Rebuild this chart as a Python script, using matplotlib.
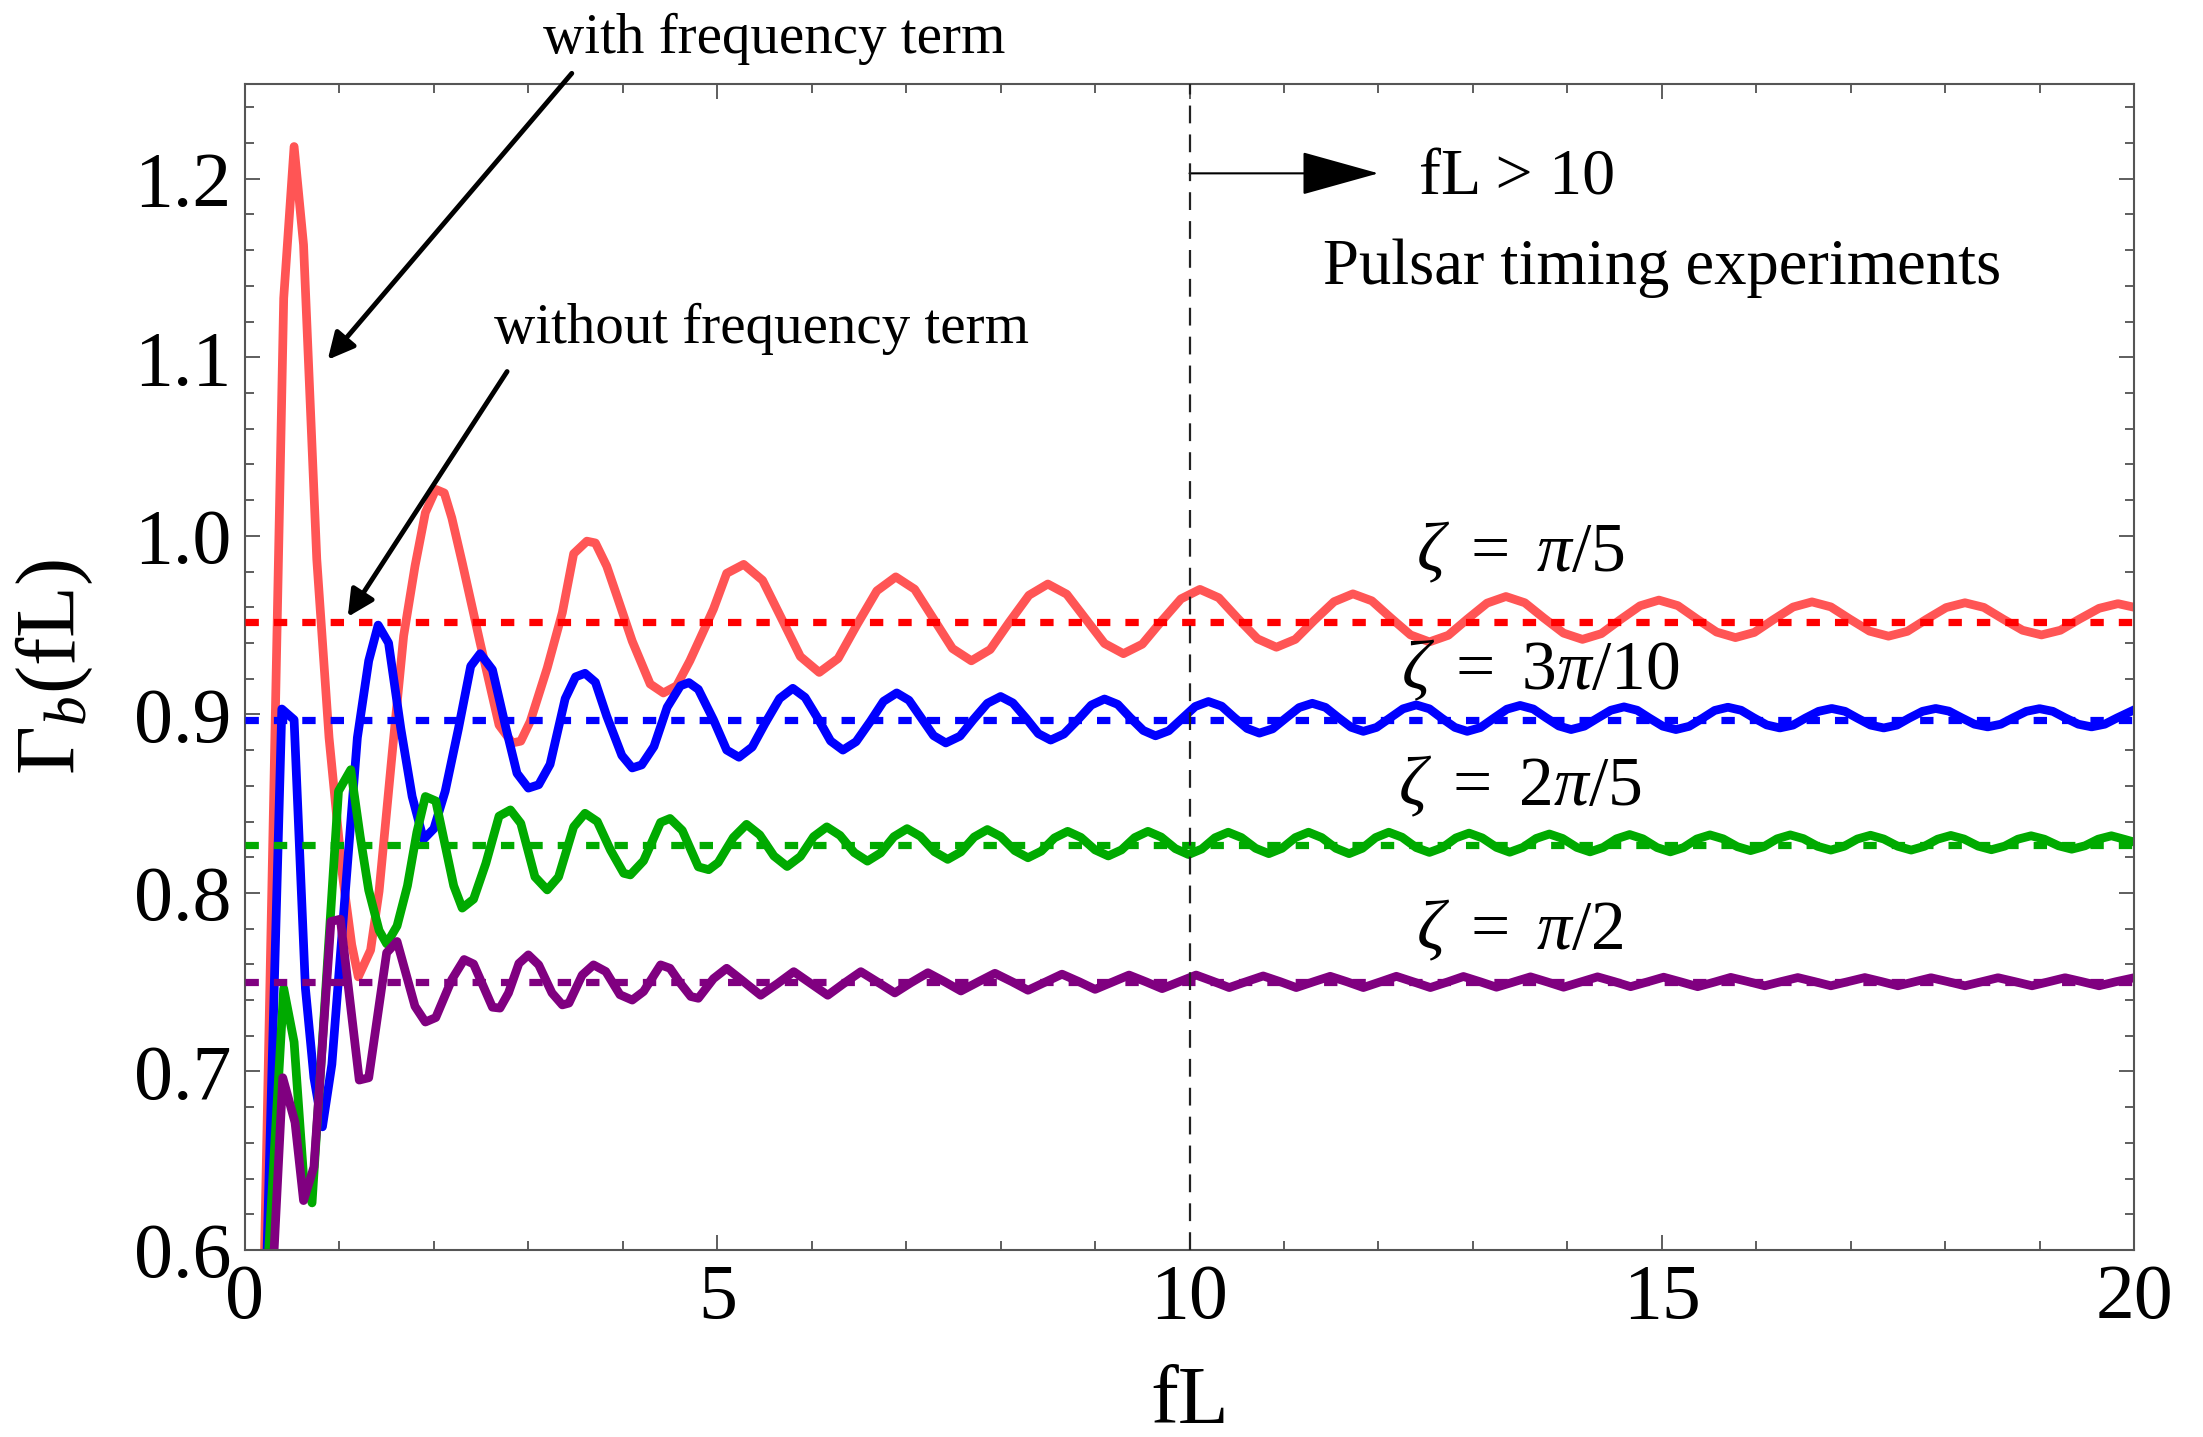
import matplotlib.pyplot as plt
from matplotlib.ticker import MultipleLocator, FormatStrFormatter

plt.rcParams['font.family'] = ['Liberation Serif', 'DejaVu Serif']
plt.rcParams['mathtext.fontset'] = 'custom'
plt.rcParams['mathtext.rm'] = 'Liberation Serif'
plt.rcParams['mathtext.it'] = 'Liberation Serif:italic'
plt.rcParams['mathtext.bf'] = 'Liberation Serif:bold'

# -------------------------
# Data
# -------------------------
zeta_labels = [r'$\zeta\ =\ \pi/5$', r'$\zeta\ =\ 3\pi/10$',
               r'$\zeta\ =\ 2\pi/5$', r'$\zeta\ =\ \pi/2$']
# large-fL limits (dashed lines, "without frequency term")
asymptotes = [0.952, 0.897, 0.827, 0.750]

# zeta = pi/5
red_x = [0.20, 0.41, 0.52, 0.62, 0.76, 0.89, 1.03, 1.13, 1.20, 1.33,
         1.42, 1.56, 1.68, 1.80, 1.91, 2.02, 2.11, 2.19, 2.30, 2.49,
         2.69, 2.83, 2.92, 3.02, 3.20, 3.36, 3.48, 3.62, 3.71, 3.83,
         3.94, 4.10, 4.29, 4.43, 4.57, 4.71, 4.84, 4.96, 5.10, 5.28,
         5.48, 5.68, 5.88, 6.08, 6.28, 6.48, 6.69, 6.89,
         7.09, 7.29, 7.49, 7.69, 7.89, 8.09, 8.30, 8.50,
         8.70, 8.90, 9.10, 9.30, 9.50, 9.70, 9.91, 10.11,
         10.31, 10.51, 10.72, 10.92, 11.12, 11.32, 11.53, 11.73,
         11.93, 12.13, 12.34, 12.54, 12.74, 12.94, 13.15, 13.35,
         13.55, 13.75, 13.96, 14.16, 14.36, 14.56, 14.77, 14.97,
         15.17, 15.37, 15.58, 15.78, 15.98, 16.18, 16.39, 16.59,
         16.79, 16.99, 17.20, 17.40, 17.60, 17.80, 18.01, 18.21,
         18.41, 18.61, 18.82, 19.02, 19.22, 19.42, 19.63, 19.83,
         20.00]
red_y = [0.58, 1.133, 1.218, 1.163, 0.987, 0.887, 0.811, 0.771, 0.753, 0.768,
         0.801, 0.879, 0.944, 0.983, 1.013, 1.026, 1.024, 1.010, 0.985, 0.940,
         0.894, 0.884, 0.885, 0.896, 0.926, 0.957, 0.990, 0.997, 0.996, 0.983,
         0.966, 0.941, 0.917, 0.912, 0.916, 0.930, 0.945, 0.959, 0.979, 0.984,
         0.9751, 0.9538, 0.9324, 0.9235, 0.9313, 0.9503, 0.9692, 0.977,
         0.9701, 0.9535, 0.9369, 0.930, 0.9363, 0.9515, 0.9667, 0.973,
         0.9673, 0.9535, 0.9397, 0.934, 0.9393, 0.952, 0.9647, 0.970,
         0.9653, 0.9538, 0.9423, 0.9376, 0.9420, 0.9526, 0.9631, 0.9675,
         0.9636, 0.9541, 0.9445, 0.9406, 0.9443, 0.9533, 0.9623, 0.966,
         0.9625, 0.954, 0.9455, 0.942, 0.9452, 0.953, 0.9608, 0.964,
         0.9609, 0.9535, 0.9461, 0.943, 0.9459, 0.953, 0.9601, 0.963,
         0.9602, 0.9534, 0.9466, 0.9438, 0.9465, 0.9532, 0.9598, 0.9625,
         0.9599, 0.9535, 0.9471, 0.9445, 0.9471, 0.9533, 0.9594, 0.962,
         0.960]

# zeta = 3 pi/10
blue_x = [0.22, 0.39, 0.52, 0.64, 0.73, 0.82, 0.92, 1.05, 1.19, 1.31,
          1.41, 1.52, 1.65, 1.77, 1.89, 2.00, 2.12, 2.26, 2.39, 2.49,
          2.62, 2.76, 2.88, 3.00, 3.11, 3.23, 3.39, 3.50, 3.60, 3.71,
          3.83, 3.99, 4.10, 4.20, 4.33, 4.47, 4.61, 4.70, 4.80, 4.96,
          5.10, 5.23,
          5.37, 5.51, 5.66, 5.80, 5.93, 6.07, 6.20, 6.33,
          6.47, 6.62, 6.76, 6.90, 7.03, 7.16, 7.29, 7.42,
          7.57, 7.71, 7.86, 8.00, 8.13, 8.27, 8.40, 8.53,
          8.67, 8.82, 8.96, 9.10, 9.24, 9.37, 9.51, 9.64,
          9.78, 9.92, 10.06, 10.20, 10.34, 10.47, 10.61, 10.74,
          10.88, 11.02, 11.16, 11.30, 11.44, 11.57, 11.71, 11.84,
          11.98, 12.12, 12.26, 12.40, 12.54, 12.67, 12.81, 12.94,
          13.08, 13.22, 13.36, 13.50, 13.64, 13.77, 13.91, 14.04,
          14.18, 14.32, 14.46, 14.60, 14.74, 14.87, 15.01, 15.15,
          15.29, 15.43, 15.56, 15.70, 15.84, 15.97, 16.11, 16.25,
          16.39, 16.52, 16.66, 16.80, 16.94, 17.07, 17.21, 17.35,
          17.49, 17.62, 17.76, 17.90, 18.04, 18.17, 18.31, 18.45,
          18.59, 18.72, 18.86, 19.00, 19.14, 19.27, 19.41, 19.55,
          19.69, 19.82, 19.96, 20.00]
blue_y = [0.573, 0.903, 0.897, 0.7465, 0.6965, 0.669, 0.704, 0.792, 0.887, 0.930,
          0.950, 0.940, 0.892, 0.854, 0.830, 0.836, 0.857, 0.892, 0.927, 0.934,
          0.925, 0.893, 0.867, 0.8587, 0.8606, 0.872, 0.9088, 0.921, 0.923, 0.918,
          0.899, 0.877, 0.870, 0.8717, 0.882, 0.904, 0.916, 0.9178, 0.914, 0.897,
          0.880, 0.876,
          0.8817, 0.8953, 0.9089, 0.9146, 0.9095, 0.8973, 0.8851, 0.880,
          0.8847, 0.896, 0.9073, 0.912, 0.9079, 0.898, 0.8881, 0.884,
          0.8878, 0.897, 0.9062, 0.910, 0.9064, 0.8978, 0.8892, 0.8856,
          0.8890, 0.8971, 0.9052, 0.9086, 0.9056, 0.8983, 0.8910, 0.888,
          0.8908, 0.8976, 0.9044, 0.9072, 0.9046, 0.8984, 0.8921, 0.8895,
          0.8919, 0.8979, 0.9038, 0.9062, 0.9039, 0.8984, 0.8928, 0.8905,
          0.8927, 0.8979, 0.9031, 0.9053, 0.9031, 0.8979, 0.8927, 0.8905,
          0.8926, 0.8978, 0.9029, 0.905, 0.9030, 0.8983, 0.8935, 0.8915,
          0.8934, 0.8979, 0.9023, 0.9042, 0.9023, 0.8979, 0.8934, 0.8915,
          0.8933, 0.8978, 0.9022, 0.904, 0.9023, 0.8982, 0.8941, 0.8924,
          0.8940, 0.8979, 0.9017, 0.9033, 0.9017, 0.8979, 0.8940, 0.8924,
          0.8940, 0.8979, 0.9017, 0.9033, 0.9018, 0.8982, 0.8945, 0.893,
          0.8945, 0.8981, 0.9017, 0.9032, 0.9017, 0.8981, 0.8945, 0.893,
          0.8945, 0.898, 0.9015, 0.9025]

# zeta = 2 pi/5
green_x = [0.23, 0.41, 0.52, 0.62, 0.71, 0.99, 1.12, 1.22, 1.31, 1.42,
           1.50, 1.61, 1.72, 1.82, 1.91, 2.02, 2.10, 2.21, 2.30, 2.42,
           2.55, 2.69, 2.81, 2.92, 3.07, 3.20, 3.32, 3.48, 3.60, 3.73,
           3.87, 4.01, 4.08, 4.22, 4.40, 4.50, 4.63, 4.80, 4.91, 5.01,
           5.17, 5.31, 5.45, 5.60, 5.74, 5.88, 6.02, 6.16, 6.30, 6.45,
           6.59, 6.73, 6.87, 7.01, 7.15, 7.30, 7.44, 7.58, 7.72, 7.86,
           8.00, 8.15, 8.29, 8.43, 8.57, 8.71, 8.85, 9.00, 9.14, 9.28,
           9.42, 9.56, 9.70, 9.85, 9.99, 10.13, 10.27, 10.41, 10.55, 10.70,
           10.84, 10.98, 11.12, 11.26, 11.40, 11.55, 11.69, 11.83, 11.97, 12.11,
           12.25, 12.40, 12.54, 12.68, 12.82, 12.96, 13.10, 13.25, 13.39, 13.53,
           13.67, 13.81, 13.95, 14.10, 14.24, 14.38, 14.52, 14.66, 14.80, 14.95,
           15.09, 15.23, 15.37, 15.51, 15.65, 15.80, 15.94, 16.08, 16.22, 16.36,
           16.50, 16.65, 16.79, 16.93, 17.07, 17.21, 17.35, 17.50, 17.64, 17.78,
           17.92, 18.06, 18.20, 18.35, 18.49, 18.63, 18.77, 18.91, 19.05, 19.20,
           19.34, 19.48, 19.62, 19.76, 19.90, 20.00]
green_y = [0.58, 0.7465, 0.7165, 0.6414, 0.6264, 0.857, 0.869, 0.8315, 0.8015, 0.779,
           0.7715, 0.7815, 0.804, 0.834, 0.854, 0.8515, 0.8315, 0.804, 0.7915, 0.7965,
           0.8165, 0.843, 0.8465, 0.839, 0.809, 0.8017, 0.809, 0.837, 0.8446, 0.840,
           0.824, 0.811, 0.8101, 0.818, 0.8395, 0.8417, 0.835, 0.8146, 0.813, 0.817,
           0.831, 0.8384, 0.8325, 0.8207, 0.8148, 0.8204, 0.8315, 0.837, 0.8322, 0.8226,
           0.8178, 0.8224, 0.8315, 0.836, 0.8317, 0.8231, 0.8188, 0.823, 0.8313, 0.8355,
           0.8316, 0.8237, 0.8197, 0.8234, 0.8308, 0.8345, 0.8311, 0.8241, 0.8207, 0.8241,
           0.831, 0.8345, 0.8313, 0.8248, 0.8215, 0.8246, 0.8309, 0.834, 0.831, 0.825,
           0.822, 0.825, 0.831, 0.834, 0.831, 0.825, 0.822, 0.825, 0.831, 0.834,
           0.8312, 0.8254, 0.8227, 0.8254, 0.8308, 0.8335, 0.8308, 0.8255, 0.8228, 0.8255,
           0.8305, 0.833, 0.8305, 0.8255, 0.823, 0.8255, 0.8303, 0.8327, 0.8303, 0.8254,
           0.823, 0.8254, 0.8302, 0.8325, 0.8303, 0.8259, 0.8237, 0.8259, 0.8303, 0.8325,
           0.8304, 0.8261, 0.824, 0.8261, 0.8302, 0.8323, 0.8302, 0.8261, 0.824, 0.8261,
           0.8301, 0.8322, 0.8302, 0.8262, 0.8242, 0.8262, 0.8301, 0.832, 0.8301, 0.8264,
           0.8245, 0.8264, 0.8301, 0.832, 0.830, 0.8285]

# zeta = pi/2
purple_x = [0.28, 0.40, 0.53, 0.62, 0.73, 0.91, 1.01, 1.21, 1.31, 1.50,
            1.61, 1.80, 1.91, 2.02, 2.19, 2.32, 2.42, 2.62, 2.70, 2.79,
            2.90, 3.00, 3.11, 3.25, 3.36, 3.43, 3.57, 3.69, 3.82, 3.97,
            4.10, 4.22, 4.40, 4.50, 4.61, 4.72, 4.80, 4.96, 5.10,
            5.28, 5.46, 5.64, 5.81, 5.99, 6.17, 6.34, 6.52, 6.70, 6.88,
            7.05, 7.23, 7.41, 7.58, 7.76, 7.94, 8.12, 8.29, 8.47, 8.65,
            8.83, 9.00, 9.18, 9.36, 9.54, 9.71, 9.89, 10.07, 10.25, 10.42,
            10.60, 10.78, 10.96, 11.13, 11.31, 11.49, 11.67, 11.84, 12.02, 12.19,
            12.37, 12.55, 12.73, 12.90, 13.08, 13.25, 13.43, 13.61, 13.79, 13.96,
            14.14, 14.32, 14.50, 14.67, 14.85, 15.02, 15.20, 15.38, 15.56, 15.73,
            15.91, 16.09, 16.26, 16.44, 16.62, 16.79, 16.97, 17.15, 17.33, 17.50,
            17.68, 17.85, 18.03, 18.21, 18.39, 18.56, 18.74, 18.92, 19.10, 19.27,
            19.45, 19.63, 19.81, 20.00]
purple_y = [0.57, 0.6965, 0.6715, 0.6277, 0.6465, 0.784, 0.7853, 0.6952, 0.6965, 0.7665,
            0.7728, 0.7365, 0.7277, 0.7302, 0.7515, 0.7627, 0.7602, 0.736, 0.7355, 0.744,
            0.7605, 0.7653, 0.7597, 0.744, 0.7373, 0.7383, 0.754, 0.7597, 0.756, 0.743,
            0.740, 0.7448, 0.7597, 0.7578, 0.7494, 0.742, 0.741, 0.752, 0.7578,
            0.7503, 0.7427, 0.7493, 0.7559, 0.7493, 0.7427, 0.7493, 0.7559, 0.750, 0.744,
            0.7497, 0.7553, 0.7502, 0.7451, 0.7501, 0.755, 0.7503, 0.7455, 0.750, 0.7545,
            0.7503, 0.746, 0.750, 0.754, 0.7502, 0.7464, 0.7502, 0.754, 0.7505, 0.747,
            0.7503, 0.7535, 0.7503, 0.747, 0.7502, 0.7533, 0.7502, 0.747, 0.7502, 0.7533,
            0.7502, 0.747, 0.7501, 0.7532, 0.7502, 0.7472, 0.7501, 0.753, 0.7501, 0.7472,
            0.7501, 0.753, 0.7503, 0.7475, 0.7502, 0.7528, 0.7502, 0.7475, 0.7501, 0.7527,
            0.7504, 0.748, 0.7503, 0.7526, 0.7503, 0.748, 0.7503, 0.7526, 0.7503, 0.748,
            0.7503, 0.7525, 0.7503, 0.748, 0.7503, 0.7525, 0.7503, 0.748, 0.7503, 0.7525,
            0.7503, 0.748, 0.7503, 0.7525]

# -------------------------
# Styles / placement
# -------------------------
solid_colors = ['#ff5555', '#0000ff', '#00aa00', '#800080']
dashed_colors = ['#ff0000', '#0000ff', '#00aa00', '#800080']
zeta_pos = [(12.40, 0.980), (12.24, 0.914), (12.21, 0.849), (12.40, 0.7686)]

# -------------------------
# Plot
# -------------------------
fig = plt.figure(figsize=(22.03, 14.37), dpi=100)
ax = fig.add_axes([0.1112, 0.1301, 0.8575, 0.8114])

curves = [(red_x, red_y), (blue_x, blue_y), (green_x, green_y), (purple_x, purple_y)]
for (xs, ys), c in zip(curves, solid_colors):
    ax.plot(xs, ys, color=c, lw=6.3, zorder=2)

for val, c in zip(asymptotes, dashed_colors):
    ax.axhline(val, color=c, lw=5.2, dashes=(1.85, 2.08), zorder=3)

ax.axvline(10, color='#222222', lw=1.6, dashes=(8, 5), zorder=4)

for lab, (x, y) in zip(zeta_labels, zeta_pos):
    ax.text(x, y, lab, fontsize=50, ha='left', va='baseline')

ax.text(3.15, 1.2706, 'with frequency term', fontsize=41, ha='left', va='baseline')
ax.text(2.634, 1.108, 'without frequency term', fontsize=41, ha='left', va='baseline')
ax.text(11.41, 1.141, 'Pulsar timing experiments', fontsize=46.5, ha='left', va='baseline')
ax.text(12.43, 1.191, 'fL > 10', fontsize=47.5, ha='left', va='baseline')

arrow_kw = dict(arrowstyle='-|>', color='black', lw=3.5, mutation_scale=40,
                shrinkA=0, shrinkB=0)
ax.annotate('', xy=(0.876, 1.0986), xytext=(3.46, 1.259),
            arrowprops=arrow_kw, annotation_clip=False)
ax.annotate('', xy=(1.088, 0.9546), xytext=(2.775, 1.092),
            arrowprops=arrow_kw, annotation_clip=False)
ax.annotate('', xy=(12.0, 1.203), xytext=(10.0, 1.203),
            arrowprops=dict(arrowstyle='-|>,head_length=1.4,head_width=0.39',
                            color='black', lw=1.5, mutation_scale=36,
                            shrinkA=0, shrinkB=0))

ax.set_xlim(0, 20)
ax.set_ylim(0.6, 1.253)
ax.xaxis.set_major_locator(MultipleLocator(5))
ax.xaxis.set_minor_locator(MultipleLocator(1))
ax.yaxis.set_major_locator(MultipleLocator(0.1))
ax.yaxis.set_minor_locator(MultipleLocator(0.02))
ax.yaxis.set_major_formatter(FormatStrFormatter('%.1f'))
ax.tick_params(which='both', direction='in', top=True, right=True,
               color='#333333', width=1.1)
ax.tick_params(which='major', length=11, labelsize=56, pad=10)
ax.tick_params(which='minor', length=6.5)
for s in ax.spines.values():
    s.set_linewidth(1.5)
    s.set_color('#555555')

ax.set_xlabel('fL', fontsize=60, va='baseline')
ax.xaxis.set_label_coords(0.5, -0.148)
ax.set_ylabel(r'$\Gamma_b$(fL)', fontsize=61)
ax.yaxis.set_label_coords(-0.0794, 0.5)

fig.savefig('out.png', dpi=100)
